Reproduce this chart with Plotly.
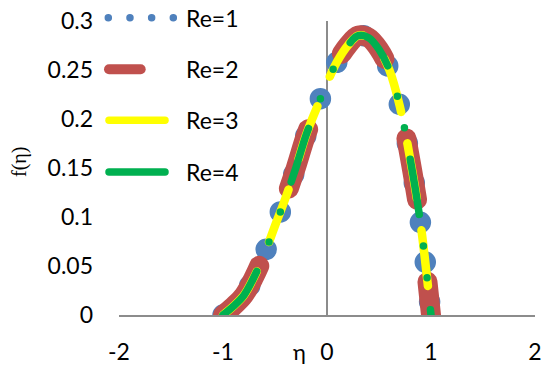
import plotly.graph_objects as go

# ---------------- data ----------------
eta = [-1.0, -0.9, -0.8, -0.7, -0.6, -0.5, -0.4, -0.3, -0.2, -0.1, 0.0,
       0.1, 0.2, 0.3, 0.4, 0.5, 0.6, 0.7, 0.8, 0.9, 1.0]
f_re1 = [0.0, 0.009, 0.020, 0.039, 0.063, 0.091, 0.119, 0.150, 0.184, 0.211, 0.237,
         0.259, 0.275, 0.285, 0.283, 0.271, 0.250, 0.213, 0.159, 0.093, 0.0]
f_re2 = [0.0, 0.009, 0.020, 0.039, 0.063, 0.091, 0.119, 0.150, 0.184, 0.211, 0.237,
         0.259, 0.275, 0.285, 0.283, 0.271, 0.250, 0.213, 0.159, 0.093, 0.0]
f_re3 = [0.0, 0.009, 0.020, 0.039, 0.063, 0.091, 0.119, 0.150, 0.184, 0.211, 0.237,
         0.259, 0.275, 0.285, 0.283, 0.271, 0.250, 0.213, 0.159, 0.093, 0.0]
f_re4 = [0.0, 0.009, 0.020, 0.039, 0.063, 0.091, 0.119, 0.150, 0.184, 0.211, 0.237,
         0.259, 0.275, 0.285, 0.283, 0.271, 0.250, 0.213, 0.159, 0.093, 0.0]
series_names = ["Re=1", "Re=2", "Re=3", "Re=4"]
x_ticks = [-2, -1, 0, 1, 2]
x_tick_labels = ["-2", "-1", "0", "1", "2"]
y_ticks = [0, 0.05, 0.1, 0.15, 0.2, 0.25, 0.3]
y_tick_labels = ["0", "0.05", "0.1", "0.15", "0.2", "0.25", "0.3"]

# ---------------- styles ----------------
W, H = 543, 372
ML, MR, MT, MB = 119, 8, 21, 57
PW, PH = W - ML - MR, H - MT - MB
FONT = "Lato"
AXIS_GREY = "#8c8c8c"

styles = [
    dict(color="#4F81BD", width=21.5, dash="0px,40px"),
    dict(color="#C0504D", width=20, dash="62px,83px"),
    dict(color="#FFFF00", width=8.5, dash="56px,32px"),
    dict(color="#00B050", width=7.5, dash="56px,32px,0px,32px,0px,32px"),
]
ys = [f_re1, f_re2, f_re3, f_re4]

fig = go.Figure()
for name, y, st in zip(series_names, ys, styles):
    fig.add_trace(go.Scatter(
        x=eta, y=y, name=name, mode="lines",
        line=dict(color=st["color"], width=st["width"], dash=st["dash"],
                  shape="spline", simplify=False),
        hoverinfo="skip",
    ))


def px_x(px):
    return (px - ML) / PW


def px_y(py):
    return (H - MB - py) / PH


# ---------------- custom legend ----------------
legend_rows = [17.7, 69.2, 120.3, 172.0]
legend_samples = [
    dict(x0=108.3, x1=174.0, width=7.5, dash="0px,21.67px"),
    dict(x0=109.0, x1=140.7, width=10, dash="solid"),
    dict(x0=109.0, x1=165.0, width=7.5, dash="solid"),
    dict(x0=109.0, x1=165.0, width=7.5, dash="solid"),
]
for name, row, smp, st in zip(series_names, legend_rows, legend_samples, styles):
    fig.add_shape(type="line", xref="paper", yref="paper",
                  x0=px_x(smp["x0"]), x1=px_x(smp["x1"]),
                  y0=px_y(row), y1=px_y(row),
                  line=dict(color=st["color"], width=smp["width"], dash=smp["dash"]),
                  layer="above")
    fig.add_annotation(text=name, xref="paper", yref="paper",
                       x=px_x(184), y=px_y(row), xanchor="left", yanchor="middle",
                       showarrow=False, font=dict(family=FONT, size=23, color="black"))

# axis titles
fig.add_annotation(text="η", xref="paper", yref="paper", x=px_x(299), y=px_y(351),
                   xanchor="center", yanchor="middle", showarrow=False,
                   font=dict(family=FONT, size=22, color="black"))
fig.add_annotation(text="f(η)", xref="paper", yref="paper", x=px_x(19.5), y=px_y(162.5),
                   xanchor="center", yanchor="middle", showarrow=False, textangle=-90,
                   font=dict(family="Liberation Serif", size=20, color="black"))

fig.update_layout(
    width=W, height=H,
    margin=dict(l=ML, r=MR, t=MT, b=MB, pad=0, autoexpand=False),
    paper_bgcolor="white", plot_bgcolor="white",
    showlegend=False,
    font=dict(family=FONT, size=23, color="black"),
    xaxis=dict(range=[-2, 2], tickvals=x_ticks, ticktext=x_tick_labels,
               showgrid=False, zeroline=True, zerolinecolor=AXIS_GREY, zerolinewidth=1.6,
               showline=True, linecolor=AXIS_GREY, linewidth=1.6, ticks="",
               ticklabelstandoff=16, layer="below traces", automargin=False,
               tickfont=dict(family=FONT, size=23, color="black")),
    yaxis=dict(range=[0, 0.3], tickvals=y_ticks, ticktext=y_tick_labels,
               showgrid=False, zeroline=False, showline=False, ticks="",
               ticklabelstandoff=25, layer="below traces", automargin=False,
               tickfont=dict(family=FONT, size=23, color="black")),
)

post = """
var st = document.createElement('style');
st.innerHTML = '.js-line{stroke-linecap:round !important;stroke-linejoin:round !important;}'
  + '.shapelayer path{stroke-linecap:round !important;}';
document.head.appendChild(st);
"""
fig.write_html("out.html", post_script=post)
